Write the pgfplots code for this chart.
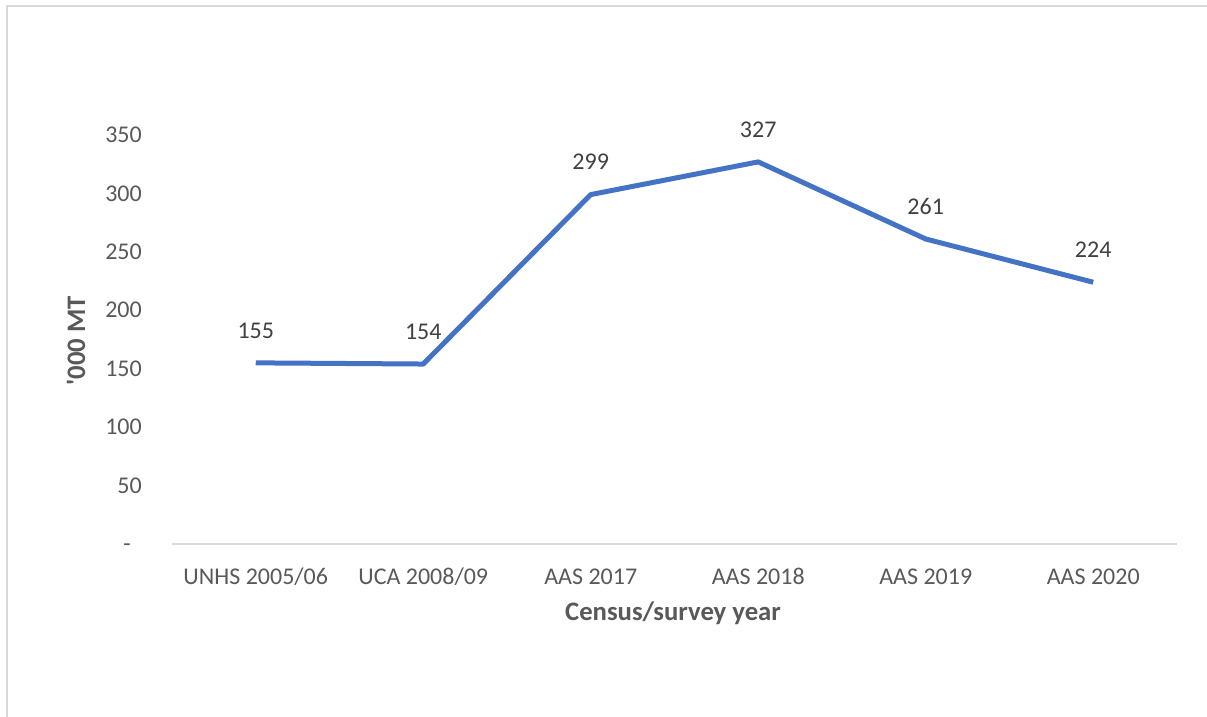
\documentclass[border=0pt]{standalone}
\usepackage{pgfplots}
\pgfplotsset{compat=1.18}
\usepackage{fontspec}
\setmainfont{Carlito}
\definecolor{lineblue}{HTML}{4472C4}
\definecolor{txt}{HTML}{595959}
\definecolor{lbl}{HTML}{404040}
\definecolor{axisgray}{HTML}{D9D9D9}
\begin{document}
\begin{tikzpicture}[x=1pt,y=1pt]
\useasboundingbox (0,0) rectangle (1207,717);
\draw[axisgray, line width=2pt] (7,0) -- (7,711) -- (1207,711);
\begin{axis}[
  at={(172pt,173pt)}, anchor=south west,
  scale only axis, width=1005pt, height=409pt,
  xmin=-0.5, xmax=5.5, ymin=0, ymax=350,
  clip=false,
  /pgf/number format/assume math mode=true,
  axis x line=bottom, axis y line=left,
  x axis line style={-, axisgray, line width=2pt},
  y axis line style={draw=none},
  major tick length=0pt,
  xtick={0,1,2,3,4,5},
  xticklabels={UNHS 2005/06, UCA 2008/09, AAS 2017, AAS 2018, AAS 2019, AAS 2020},
  ytick={0,50,100,150,200,250,300,350},
  yticklabels={{-\hspace*{11pt}},50,100,150,200,250,300,350},
  tick label style={font=\fontsize{24}{28}\selectfont, text=txt, inner sep=0pt},
  xticklabel style={anchor=base, yshift=-41pt},
  yticklabel style={anchor=base east, xshift=-30pt, yshift=-7.7pt},
  xlabel={Census/survey year},
  ylabel={\textquotesingle 000 MT},
  label style={font=\fontsize{26.7}{30}\selectfont\bfseries, text=txt},
  xlabel style={at={(rel axis cs:0.4985,-0.1687)}, anchor=center, inner sep=0pt},
  ylabel style={at={(rel axis cs:-0.0955,0.4965)}, anchor=center, rotate=0, inner sep=0pt},
  nodes near coords={\pgfmathprintnumber[assume math mode=true]{\pgfplotspointmeta}},
  every node near coord/.style={anchor=base, yshift=24.8pt, inner sep=0pt,
    font=\fontsize{24}{28}\selectfont, text=lbl},
]
\addplot[lineblue, line width=5pt, line join=round, mark=none]
  coordinates {(0,155) (1,154) (2,299) (3,327) (4,261) (5,224)};
\end{axis}
\end{tikzpicture}
\end{document}
